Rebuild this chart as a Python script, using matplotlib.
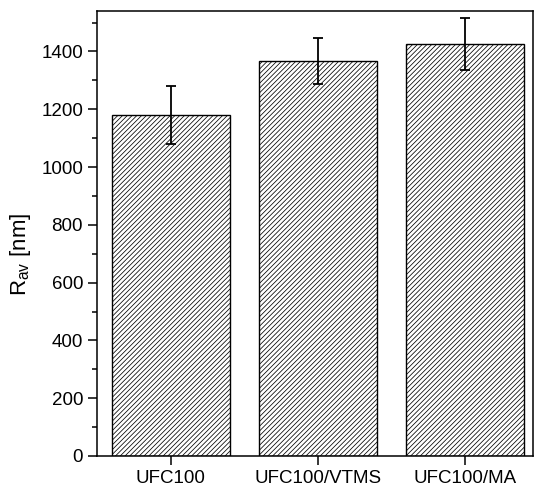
import numpy as np
import matplotlib.pyplot as plt
from matplotlib.ticker import MultipleLocator

# donnees
samples = ['UFC100', 'UFC100/VTMS', 'UFC100/MA']
r_av = [1180, 1368, 1425]
r_err = [100, 80, 90]

plt.rcParams['font.family'] = 'Liberation Sans'
plt.rcParams['mathtext.fontset'] = 'custom'
plt.rcParams['mathtext.rm'] = 'Liberation Sans'
plt.rcParams['hatch.linewidth'] = 0.55

fig = plt.figure(figsize=(5.34, 4.88), dpi=100)
ax = fig.add_axes([97 / 534, 32 / 488, 436 / 534, 445 / 488])

x = np.arange(len(samples))
ax.bar(x, r_av, width=0.8, color='white', edgecolor='black', linewidth=1.0, hatch='///////')
ax.errorbar(x, r_av, yerr=r_err, fmt='none', ecolor='black', elinewidth=1.3,
            capsize=3.5, capthick=1.3)

ax.set_xlim(-0.5, 2.46)
ax.set_ylim(0, 1540)
ax.set_xticks(x)
ax.set_xticklabels(samples)
ax.yaxis.set_major_locator(MultipleLocator(200))
ax.yaxis.set_minor_locator(MultipleLocator(100))

ax.tick_params(axis='both', which='major', direction='out', length=6.5, width=1.1, labelsize=13.5)
ax.tick_params(axis='y', which='minor', direction='out', length=3.3, width=1.1)
ax.tick_params(axis='x', which='minor', bottom=False)
for s in ax.spines.values():
    s.set_linewidth(1.1)

ax.set_ylabel(r'R$_{\mathrm{av}}$ [nm]', fontsize=16)
ax.yaxis.set_label_coords(-0.147, 0.452)

fig.savefig('out.png', dpi=100)
